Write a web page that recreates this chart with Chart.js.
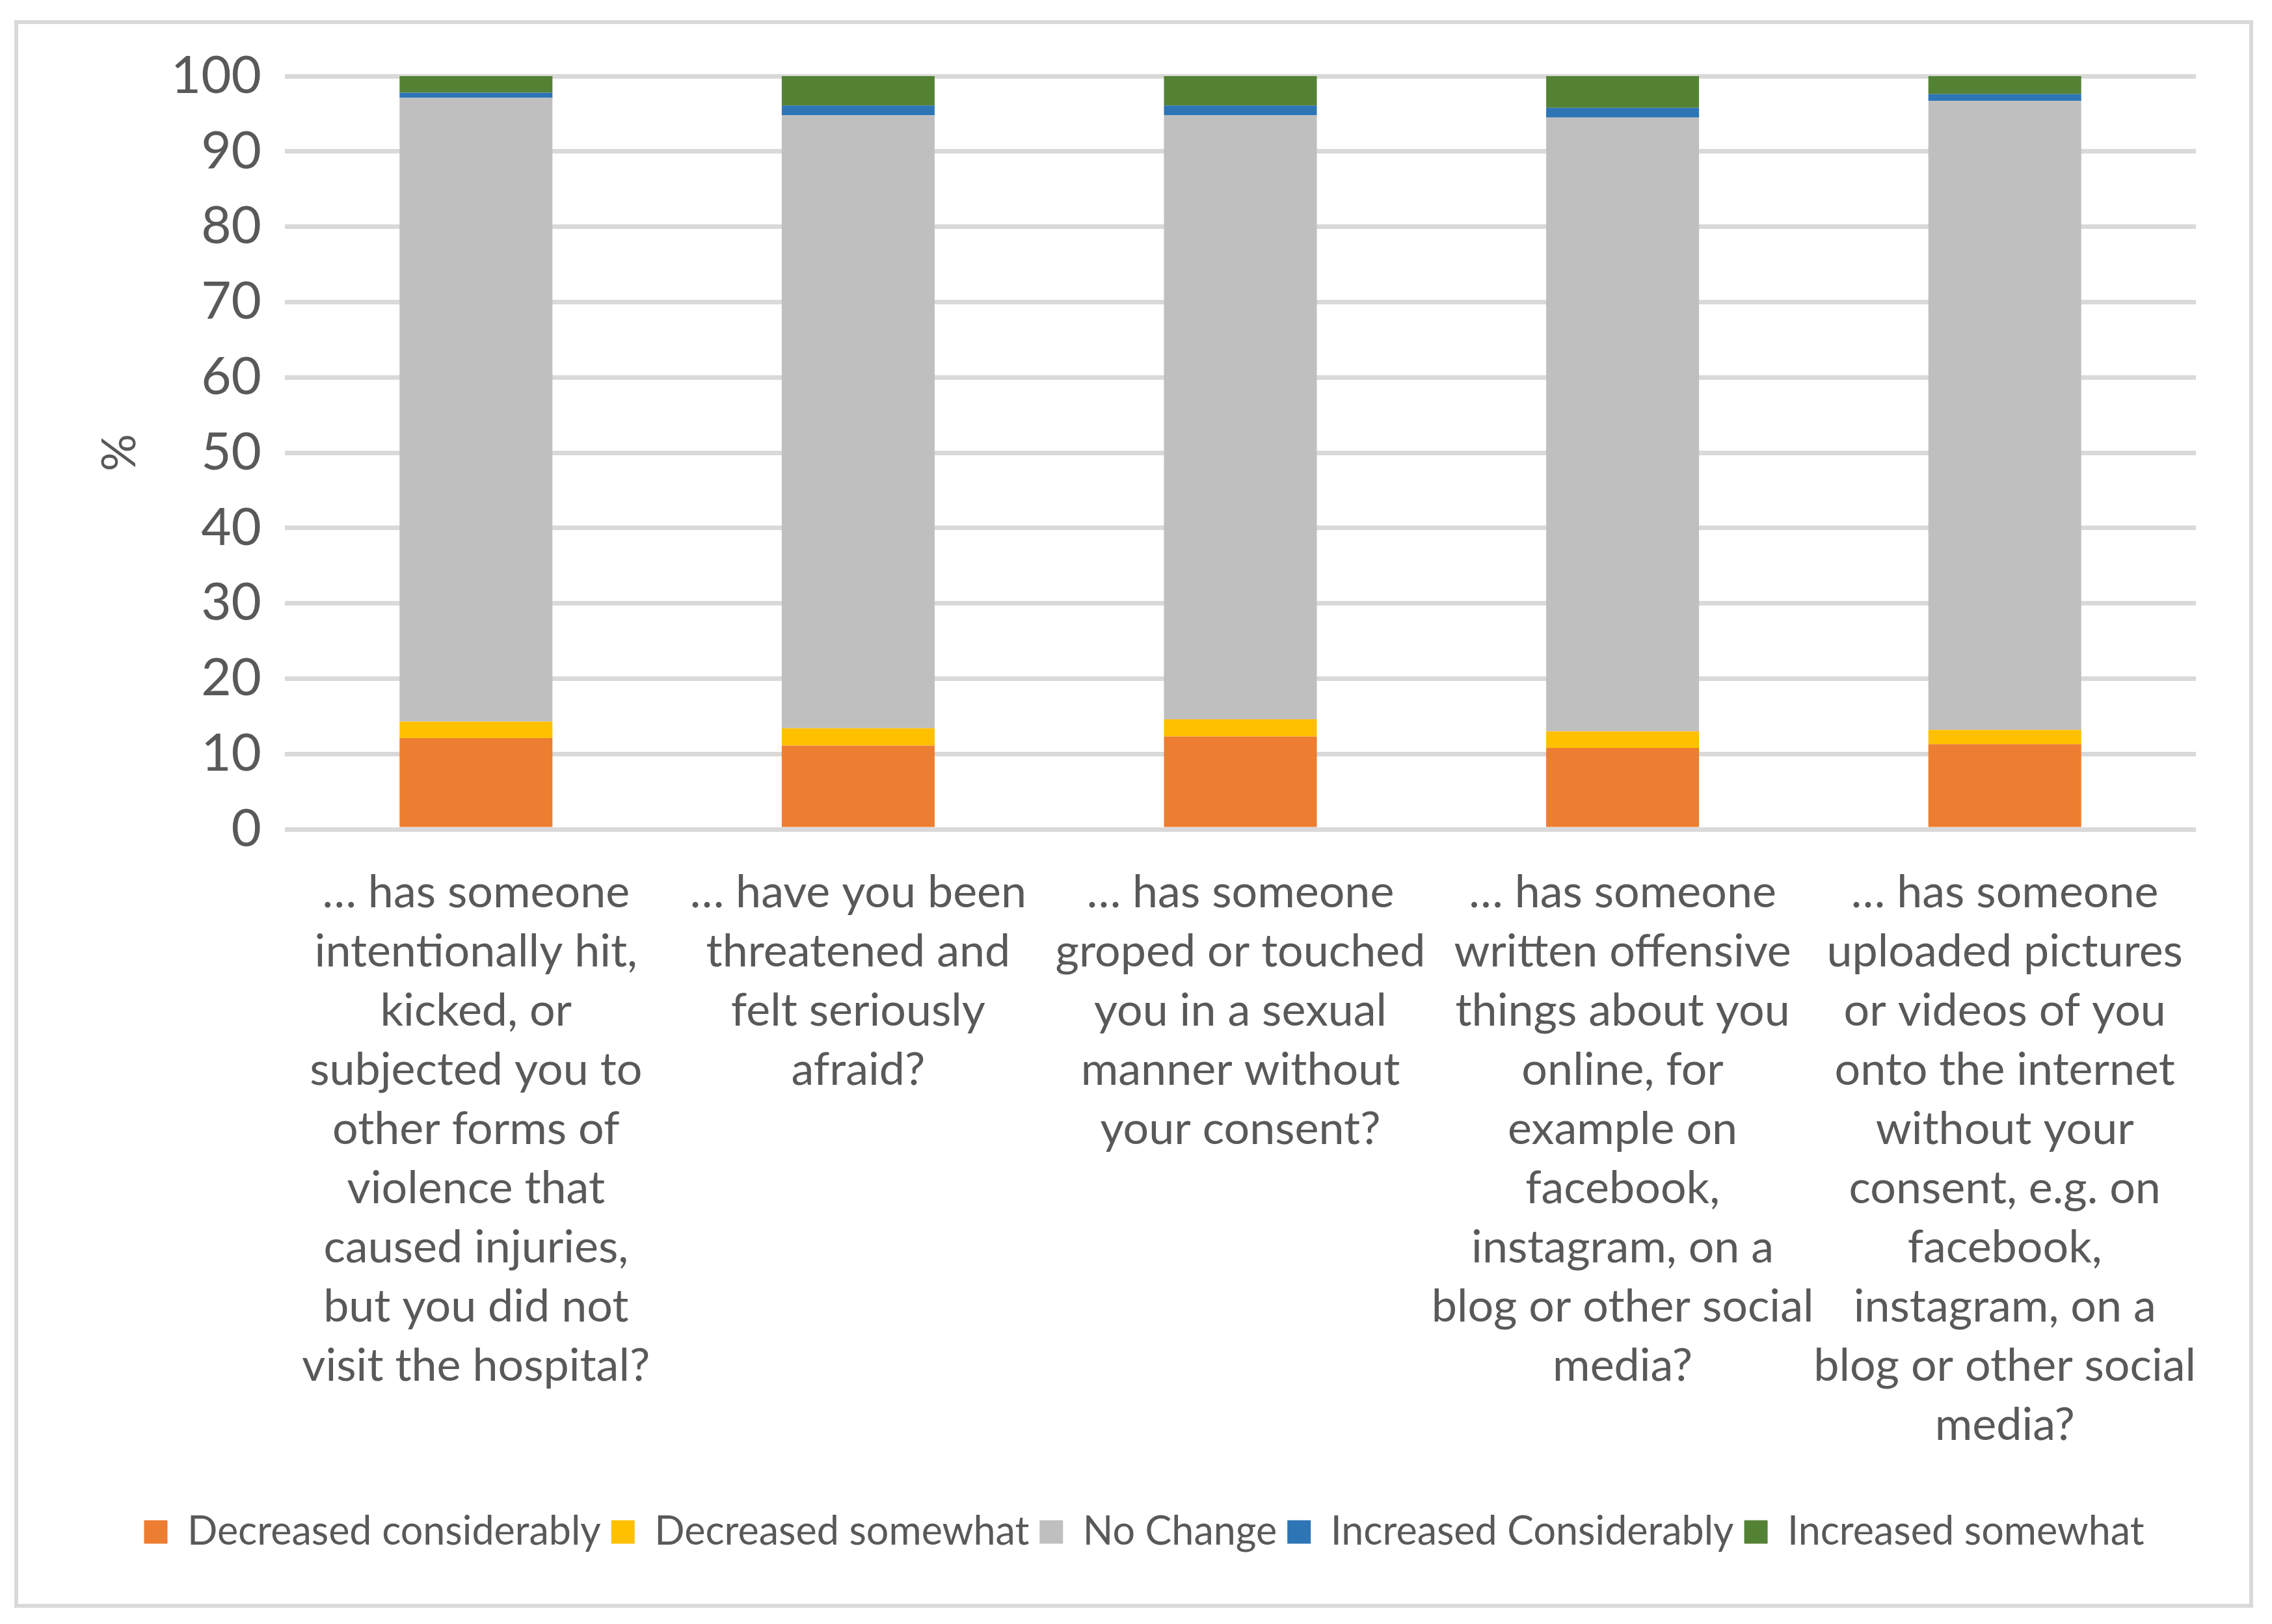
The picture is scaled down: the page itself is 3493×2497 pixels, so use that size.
<!DOCTYPE html>
<html>
<head>
<meta charset="utf-8">
<script src="https://cdn.jsdelivr.net/npm/chart.js@4/dist/chart.umd.min.js"></script>
<style>
  html, body { margin: 0; padding: 0; background: #ffffff; }
  #frame {
    position: absolute; left: 22px; top: 31px;
    width: 3430px; height: 2429px;
    border: 6px solid #d9d9d9; background: #ffffff;
  }
  canvas { display: block; }
</style>
</head>
<body>
<div id="frame"><canvas id="barChart" width="3430" height="2429" style="width:3430px;height:2429px"></canvas></div>
<script>
const categories = [
    ['… has someone', 'intentionally hit,', 'kicked, or', 'subjected you to', 'other forms of', 'violence that', 'caused injuries,', 'but you did not', 'visit the hospital?'],
    ['… have you been', 'threatened and', 'felt seriously', 'afraid?'],
    ['… has someone', 'groped or touched', 'you in a sexual', 'manner without', 'your consent?'],
    ['… has someone', 'written offensive', 'things about you', 'online, for', 'example on', 'facebook,', 'instagram, on a', 'blog or other social', 'media?'],
    ['… has someone', 'uploaded pictures', 'or videos of you', 'onto the internet', 'without your', 'consent, e.g. on', 'facebook,', 'instagram, on a', 'blog or other social', 'media?']
];
const decreasedConsiderably = [12.1, 11.1, 12.3, 10.8, 11.3];
const decreasedSomewhat = [2.2, 2.3, 2.3, 2.2, 1.9];
const noChange = [82.8, 81.4, 80.2, 81.5, 83.5];
const increasedConsiderably = [0.7, 1.3, 1.3, 1.3, 0.9];
const increasedSomewhat = [2.2, 3.9, 3.9, 4.2, 2.4];

const textColor = '#595959';
const fontFamily = 'Lato, "Noto Sans", sans-serif';

function makeSet(label, data, color) {
    return {
        label: label,
        data: data,
        backgroundColor: color,
        borderWidth: 0,
        barPercentage: 0.4,
        categoryPercentage: 1.0
    };
}

const ctx = document.getElementById('barChart').getContext('2d');
new Chart(ctx, {
    type: 'bar',
    data: {
        labels: categories,
        datasets: [
            makeSet('Decreased considerably', decreasedConsiderably, '#ED7D31'),
            makeSet('Decreased somewhat', decreasedSomewhat, '#FFC000'),
            makeSet('No Change', noChange, '#BFBFBF'),
            makeSet('Increased Considerably', increasedConsiderably, '#2E75B6'),
            makeSet('Increased somewhat', increasedSomewhat, '#548235')
        ]
    },
    options: {
        responsive: false,
        devicePixelRatio: 1,
        animation: false,
        layout: { padding: { top: 80, right: 82, bottom: 70, left: 114 } },
        plugins: {
            tooltip: { enabled: false },
            legend: {
                position: 'bottom',
                labels: {
                    color: textColor,
                    font: { family: fontFamily, size: 61 },
                    boxWidth: 36,
                    boxHeight: 36,
                    padding: 16
                }
            }
        },
        scales: {
            x: {
                stacked: true,
                grid: { display: false, drawTicks: false },
                border: { display: false },
                ticks: {
                    color: textColor,
                    font: { family: fontFamily, size: 70, lineHeight: 1.3 },
                    padding: 52,
                    maxRotation: 0,
                    autoSkip: false
                },
                afterFit: function (scale) { scale.height = 1034; }
            },
            y: {
                stacked: true,
                min: 0,
                max: 100,
                grid: { color: '#d9d9d9', lineWidth: 7, drawTicks: false },
                border: { display: false },
                ticks: {
                    stepSize: 10,
                    color: textColor,
                    font: { family: fontFamily, size: 80, lineHeight: 1.0 },
                    padding: 36
                },
                title: {
                    display: true,
                    text: '%',
                    color: textColor,
                    font: { family: fontFamily, size: 72 },
                    padding: { top: 0, bottom: 0 }
                },
                afterFit: function (scale) { scale.width = 296; }
            }
        }
    }
});
</script>
</body>
</html>
